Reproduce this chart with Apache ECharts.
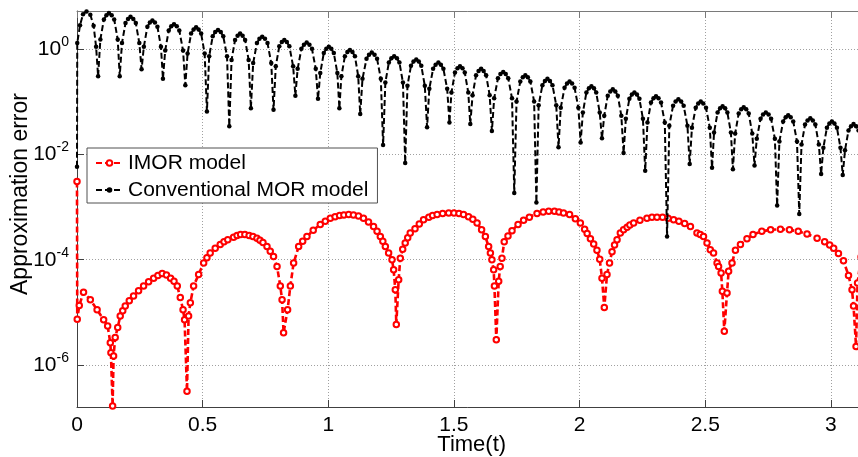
<!DOCTYPE html>
<html>
<head>
<meta charset="utf-8">
<script src="https://cdn.jsdelivr.net/npm/echarts@6/dist/echarts.min.js"></script>
<style>
  html, body { margin: 0; padding: 0; background: #fff; }
  #chart { width: 858px; height: 457px; }
</style>
</head>
<body>
<div id="chart"></div>
<script>
// Error of two reduced models over time, plotted on a logarithmic error scale.
// Each sample is [time t, log10(approximation error)].

const seriesNames = ['IMOR model', 'Conventional MOR model'];

// x tick labels (time) and y tick labels (decade exponents of the error)
const timeTicks = [0, 0.5, 1, 1.5, 2, 2.5, 3];
const decadeTicks = [-6, -4, -2, 0];

const imorSamples = [
  [0, -2.51], [0.001, -5.13], [0.009, -4.87], [0.026, -4.62], [0.053, -4.76], [0.080, -4.95],
  [0.106, -5.14], [0.122, -5.26], [0.1325, -5.58], [0.135, -5.77], [0.1417, -6.78], [0.1456, -5.83],
  [0.152, -5.48], [0.162, -5.29], [0.172, -5.07], [0.182, -4.97], [0.192, -4.88], [0.208, -4.78],
  [0.225, -4.69], [0.245, -4.59], [0.265, -4.50], [0.285, -4.42], [0.305, -4.35], [0.322, -4.30],
  [0.339, -4.26], [0.356, -4.29], [0.3725, -4.35], [0.386, -4.41], [0.399, -4.50], [0.411, -4.72],
  [0.422, -4.95], [0.428, -5.14], [0.4377, -6.50], [0.444, -5.07], [0.451, -4.82], [0.464, -4.50],
  [0.484, -4.28], [0.504, -4.06], [0.517, -3.96], [0.530, -3.87], [0.550, -3.78], [0.570, -3.71],
  [0.585, -3.66], [0.600, -3.62], [0.623, -3.57], [0.637, -3.54], [0.651, -3.52], [0.668, -3.52],
  [0.685, -3.54], [0.700, -3.56], [0.716, -3.59], [0.728, -3.63], [0.740, -3.67], [0.756, -3.75],
  [0.769, -3.84], [0.782, -3.94], [0.796, -4.13], [0.809, -4.50], [0.816, -4.76], [0.822, -5.39],
  [0.838, -4.95], [0.849, -4.50], [0.862, -4.06], [0.882, -3.75], [0.898, -3.65], [0.915, -3.56],
  [0.940, -3.44], [0.968, -3.33], [0.988, -3.27], [1.008, -3.21], [1.027, -3.18], [1.045, -3.16],
  [1.062, -3.15], [1.081, -3.14], [1.100, -3.15], [1.120, -3.17], [1.140, -3.21], [1.160, -3.28],
  [1.180, -3.37], [1.194, -3.46], [1.207, -3.56], [1.217, -3.65], [1.227, -3.75], [1.240, -3.87],
  [1.2535, -4.00], [1.260, -4.19], [1.2666, -4.57], [1.2706, -5.23], [1.280, -4.38], [1.2865, -3.97],
  [1.296, -3.80], [1.306, -3.68], [1.316, -3.58], [1.326, -3.49], [1.345, -3.41], [1.362, -3.32],
  [1.379, -3.24], [1.400, -3.19], [1.415, -3.16], [1.433, -3.14], [1.455, -3.12], [1.479, -3.11],
  [1.500, -3.11], [1.520, -3.12], [1.538, -3.14], [1.558, -3.18], [1.575, -3.23], [1.592, -3.30],
  [1.610, -3.43], [1.625, -3.56], [1.638, -3.75], [1.645, -3.87], [1.651, -4.00], [1.658, -4.19],
  [1.661, -4.50], [1.6685, -5.52], [1.678, -4.41], [1.684, -4.13], [1.691, -3.97], [1.700, -3.66],
  [1.715, -3.55], [1.731, -3.45], [1.755, -3.33], [1.777, -3.25], [1.800, -3.19], [1.8305, -3.12],
  [1.855, -3.09], [1.877, -3.08], [1.900, -3.08], [1.918, -3.09], [1.936, -3.11], [1.960, -3.14],
  [1.983, -3.22], [2.003, -3.30], [2.020, -3.42], [2.030, -3.50], [2.043, -3.60], [2.056, -3.70],
  [2.069, -3.82], [2.080, -3.99], [2.089, -4.35], [2.0983, -4.91], [2.109, -4.28], [2.119, -4.06],
  [2.129, -3.85], [2.139, -3.72], [2.149, -3.62], [2.162, -3.49], [2.175, -3.43], [2.189, -3.38],
  [2.200, -3.34], [2.215, -3.30], [2.240, -3.25], [2.268, -3.21], [2.288, -3.19], [2.308, -3.19],
  [2.330, -3.19], [2.352, -3.21], [2.374, -3.24], [2.395, -3.27], [2.418, -3.31], [2.441, -3.37],
  [2.467, -3.49], [2.480, -3.52], [2.493, -3.56], [2.507, -3.68], [2.520, -3.81], [2.533, -3.87],
  [2.547, -4.06], [2.553, -4.13], [2.563, -4.25], [2.568, -4.60], [2.5758, -5.36], [2.5866, -4.63],
  [2.5929, -4.22], [2.6064, -4.06], [2.620, -3.82], [2.640, -3.71], [2.666, -3.60], [2.690, -3.52],
  [2.725, -3.46], [2.760, -3.43], [2.799, -3.42], [2.835, -3.43], [2.870, -3.46], [2.905, -3.51],
  [2.945, -3.59], [2.975, -3.66], [2.995, -3.72], [3.011, -3.78], [3.030, -3.88], [3.050, -4.02],
  [3.070, -4.30], [3.084, -4.57], [3.090, -4.88], [3.100, -5.65], [3.106, -4.44], [3.120, -3.95],
  [3.1416, -3.65]
];

const conventionalSamples = [
  [0, -2.23], [0.001, 0.12], [0.012, 0.46], [0.024, 0.67], [0.038, 0.72], [0.053, 0.66], [0.066, 0.45], [0.076, 0.05], [0.084, -0.51],
  [0.093, 0.19], [0.107, 0.57], [0.117, 0.65], [0.127, 0.69], [0.138, 0.65], [0.148, 0.57], [0.162, 0.19], [0.170, -0.51],
  [0.179, 0.12], [0.193, 0.50], [0.203, 0.58], [0.213, 0.62], [0.224, 0.58], [0.234, 0.50], [0.248, 0.12], [0.257, -0.38],
  [0.266, 0.05], [0.280, 0.43], [0.290, 0.51], [0.300, 0.55], [0.310, 0.51], [0.320, 0.43], [0.334, 0.05], [0.342, -0.56],
  [0.351, -0.02], [0.365, 0.36], [0.375, 0.44], [0.386, 0.48], [0.397, 0.44], [0.407, 0.36], [0.422, -0.02], [0.431, -0.68],
  [0.440, -0.08], [0.454, 0.30], [0.464, 0.38], [0.474, 0.42], [0.484, 0.38], [0.494, 0.30], [0.508, -0.08], [0.517, -1.18],
  [0.526, -0.13], [0.540, 0.25], [0.550, 0.33], [0.561, 0.37], [0.572, 0.33], [0.582, 0.25], [0.597, -0.13], [0.606, -1.46],
  [0.615, -0.20], [0.629, 0.18], [0.639, 0.26], [0.649, 0.30], [0.659, 0.26], [0.669, 0.18], [0.683, -0.20], [0.692, -1.12],
  [0.701, -0.26], [0.716, 0.12], [0.726, 0.20], [0.737, 0.24], [0.748, 0.20], [0.758, 0.12], [0.773, -0.26], [0.782, -1.15],
  [0.791, -0.32], [0.805, 0.06], [0.815, 0.14], [0.825, 0.18], [0.835, 0.14], [0.845, 0.06], [0.860, -0.32], [0.869, -0.88],
  [0.878, -0.37], [0.893, 0.01], [0.903, 0.09], [0.914, 0.13], [0.925, 0.09], [0.935, 0.01], [0.950, -0.37], [0.959, -0.94],
  [0.968, -0.45], [0.982, -0.07], [0.992, 0.01], [1.002, 0.05], [1.012, 0.01], [1.022, -0.07], [1.036, -0.45], [1.044, -1.12],
  [1.052, -0.51], [1.066, -0.13], [1.076, -0.05], [1.086, -0.01], [1.096, -0.05], [1.106, -0.13], [1.119, -0.51], [1.127, -1.23],
  [1.136, -0.56], [1.152, -0.18], [1.162, -0.10], [1.173, -0.06], [1.184, -0.10], [1.194, -0.18], [1.209, -0.56], [1.218, -1.82],
  [1.227, -0.63], [1.241, -0.25], [1.251, -0.17], [1.262, -0.13], [1.273, -0.17], [1.283, -0.25], [1.297, -0.63], [1.306, -2.16],
  [1.315, -0.69], [1.329, -0.31], [1.339, -0.23], [1.350, -0.19], [1.360, -0.23], [1.370, -0.31], [1.384, -0.69], [1.393, -1.48],
  [1.402, -0.75], [1.417, -0.37], [1.427, -0.29], [1.438, -0.25], [1.448, -0.29], [1.458, -0.37], [1.473, -0.75], [1.482, -1.39],
  [1.490, -0.82], [1.504, -0.44], [1.514, -0.36], [1.524, -0.32], [1.534, -0.36], [1.543, -0.44], [1.557, -0.82], [1.565, -1.42],
  [1.574, -0.87], [1.588, -0.49], [1.598, -0.41], [1.608, -0.37], [1.618, -0.41], [1.628, -0.49], [1.642, -0.87], [1.651, -1.55],
  [1.660, -0.93], [1.675, -0.55], [1.685, -0.47], [1.696, -0.43], [1.706, -0.47], [1.716, -0.55], [1.731, -0.93], [1.740, -2.73],
  [1.749, -0.99], [1.764, -0.61], [1.774, -0.53], [1.784, -0.49], [1.794, -0.53], [1.804, -0.61], [1.819, -0.99], [1.828, -2.91],
  [1.837, -1.06], [1.852, -0.68], [1.862, -0.60], [1.872, -0.56], [1.882, -0.60], [1.892, -0.68], [1.907, -1.06], [1.916, -1.86],
  [1.925, -1.11], [1.940, -0.73], [1.950, -0.65], [1.960, -0.61], [1.970, -0.65], [1.980, -0.73], [1.995, -1.11], [2.004, -1.77],
  [2.013, -1.20], [2.027, -0.82], [2.037, -0.74], [2.047, -0.70], [2.057, -0.74], [2.066, -0.82], [2.080, -1.20], [2.089, -1.69],
  [2.098, -1.26], [2.112, -0.88], [2.122, -0.80], [2.132, -0.76], [2.142, -0.80], [2.152, -0.88], [2.166, -1.26], [2.175, -1.97],
  [2.184, -1.32], [2.198, -0.94], [2.208, -0.86], [2.218, -0.82], [2.228, -0.86], [2.238, -0.94], [2.252, -1.32], [2.261, -2.31],
  [2.270, -1.39], [2.284, -1.01], [2.294, -0.93], [2.304, -0.89], [2.314, -0.93], [2.324, -1.01], [2.339, -1.39], [2.348, -3.56],
  [2.357, -1.45], [2.372, -1.07], [2.382, -0.99], [2.393, -0.95], [2.404, -0.99], [2.414, -1.07], [2.429, -1.45], [2.438, -2.18],
  [2.447, -1.49], [2.462, -1.11], [2.472, -1.03], [2.482, -0.99], [2.492, -1.03], [2.503, -1.11], [2.518, -1.49], [2.527, -2.25],
  [2.535, -1.58], [2.549, -1.20], [2.559, -1.12], [2.569, -1.08], [2.579, -1.12], [2.588, -1.20], [2.602, -1.58], [2.610, -2.28],
  [2.619, -1.60], [2.633, -1.22], [2.643, -1.14], [2.653, -1.10], [2.663, -1.14], [2.673, -1.22], [2.687, -1.60], [2.696, -2.21],
  [2.705, -1.70], [2.720, -1.32], [2.730, -1.24], [2.741, -1.20], [2.752, -1.24], [2.762, -1.32], [2.777, -1.70], [2.786, -2.97],
  [2.795, -1.75], [2.810, -1.37], [2.820, -1.29], [2.830, -1.25], [2.840, -1.29], [2.850, -1.37], [2.865, -1.75], [2.874, -3.13],
  [2.883, -1.81], [2.897, -1.43], [2.907, -1.35], [2.918, -1.31], [2.928, -1.35], [2.938, -1.43], [2.952, -1.81], [2.961, -2.37],
  [2.970, -1.87], [2.984, -1.49], [2.994, -1.41], [3.004, -1.37], [3.014, -1.41], [3.024, -1.49], [3.038, -1.87], [3.047, -2.39],
  [3.056, -1.92], [3.070, -1.54], [3.080, -1.46], [3.090, -1.42], [3.100, -1.46], [3.110, -1.54], [3.124, -1.92], [3.134, -2.45],
  [3.1416, -1.95]
];

const FONT = '"Liberation Sans", Arial, Helvetica, sans-serif';
const AXIS_COLOR = '#404040';
const GRID_DOTS = { color: '#a0a0a0', width: 1, type: [1, 2] };

const chart = echarts.init(document.getElementById('chart'), null, { renderer: 'canvas' });

chart.setOption({
  animation: false,
  backgroundColor: '#ffffff',
  textStyle: { fontFamily: FONT },
  grid: {
    left: 77, top: 11, width: 789.5, height: 396,
    containLabel: false, outerBoundsMode: 'none'
  },
  legend: {
    data: seriesNames,
    orient: 'vertical',
    left: 87, top: 148,
    padding: [4, 9, 2, 8],
    itemWidth: 27, itemHeight: 7, itemGap: 5,
    backgroundColor: '#ffffff',
    borderColor: '#505050', borderWidth: 1, borderRadius: 0,
    textStyle: { fontSize: 21, lineHeight: 22, color: '#000', fontFamily: FONT }
  },
  xAxis: [{
    type: 'value', position: 'bottom', min: 0, max: 3.1416,
    axisLine: { show: true, onZero: false, lineStyle: { color: AXIS_COLOR, width: 1 } },
    axisTick: { show: true, inside: true, length: 7, customValues: timeTicks, lineStyle: { color: AXIS_COLOR } },
    axisLabel: { fontSize: 21, color: '#000', margin: 8, fontFamily: FONT, customValues: timeTicks },
    splitLine: { show: true, lineStyle: GRID_DOTS }
  }, {
    type: 'value', position: 'top', min: 0, max: 3.1416,
    axisLine: { show: true, onZero: false, lineStyle: { color: '#7a7a7a', width: 1 } },
    axisTick: { show: true, inside: true, length: 7, customValues: timeTicks, lineStyle: { color: '#7a7a7a' } },
    axisLabel: { show: false },
    splitLine: { show: false }
  }],
  yAxis: {
    type: 'value', min: -6.8, max: 0.73,
    axisLine: { show: true, onZero: false, lineStyle: { color: AXIS_COLOR, width: 1 } },
    axisTick: { show: true, inside: true, length: 7, customValues: decadeTicks, lineStyle: { color: AXIS_COLOR } },
    axisLabel: {
      customValues: decadeTicks,
      margin: 8,
      formatter: v => '{b|10}{s|' + v + '}',
      rich: {
        b: { fontSize: 21, lineHeight: 28, color: '#000', fontFamily: FONT },
        s: { fontSize: 14, verticalAlign: 'top', color: '#000', fontFamily: FONT }
      }
    },
    splitLine: { show: true, lineStyle: GRID_DOTS }
  },
  graphic: [{
    type: 'text',
    x: 21, y: 194,
    rotation: Math.PI / 2,
    style: {
      text: 'Approximation error',
      fontSize: 23, fontFamily: FONT, fill: '#000',
      align: 'center', verticalAlign: 'middle'
    }
  }, {
    type: 'text',
    x: 471.7, y: 445,
    style: {
      text: 'Time(t)',
      fontSize: 22, fontFamily: FONT, fill: '#000',
      align: 'center', verticalAlign: 'middle'
    }
  }],
  series: [{
    name: seriesNames[0],
    type: 'line',
    data: imorSamples,
    showAllSymbol: true,
    symbol: 'emptyCircle', symbolSize: 5.5,
    itemStyle: { color: '#ff0000', borderWidth: 1.3 },
    lineStyle: { color: '#ff0000', width: 2.6, type: [6, 3] },
    emphasis: { disabled: true },
    z: 2
  }, {
    name: seriesNames[1],
    type: 'line',
    data: conventionalSamples,
    showAllSymbol: true,
    symbol: 'circle', symbolSize: 4.5,
    itemStyle: { color: '#000000' },
    lineStyle: { color: '#000000', width: 2, type: [6, 3] },
    emphasis: { disabled: true },
    z: 3
  }]
});
</script>
</body>
</html>
